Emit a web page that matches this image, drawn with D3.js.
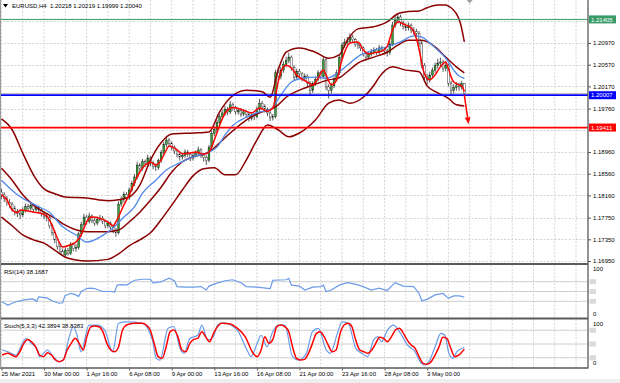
<!DOCTYPE html>
<html><head><meta charset="utf-8">
<script src="https://cdn.jsdelivr.net/npm/d3@7"></script>
<style>body{margin:0;background:#fff}svg{display:block}text{font-family:"Liberation Sans",Arial,sans-serif}</style>
</head><body><svg id="c" width="620" height="383"></svg>
<script>
// ---------- data ----------
const opens=[1.1822,1.1817,1.1810,1.1803,1.1800,1.1792,1.1786,1.1783,1.1780,1.1788,
1.1795,1.1792,1.1798,1.1790,1.1794,1.1789,1.1782,1.1778,1.1775,1.1760,
1.1748,1.1734,1.1722,1.1712,1.1706,1.1715,1.1709,1.1725,1.1718,1.1720,
1.1745,1.1762,1.1776,1.1768,1.1778,1.1770,1.1765,1.1772,1.1774,1.1768,
1.1760,1.1765,1.1758,1.1752,1.1747,1.1800,1.1808,1.1818,1.1812,1.1826,
1.1838,1.1850,1.1872,1.1866,1.1878,1.1875,1.1885,1.1876,1.1870,1.1867,
1.1880,1.1895,1.1910,1.1918,1.1912,1.1905,1.1898,1.1892,1.1887,1.1890,
1.1896,1.1892,1.1885,1.1890,1.1894,1.1900,1.1890,1.1886,1.1881,1.1905,
1.1930,1.1937,1.1950,1.1961,1.1968,1.1975,1.1970,1.1983,1.1978,1.1970,
1.1973,1.1966,1.1970,1.1965,1.1958,1.1964,1.1961,1.1975,1.1986,1.1980,
1.1975,1.1968,1.1960,1.1961,1.2042,1.2035,1.2047,1.2058,1.2065,1.2071,
1.2052,1.2034,1.2045,1.2040,1.2032,1.2036,1.2023,1.2010,1.2022,1.2030,
1.2042,1.2035,1.2066,1.2016,1.2010,1.2018,1.2030,1.2042,1.2070,1.2093,
1.2098,1.2100,1.2108,1.2103,1.2095,1.2092,1.2088,1.2078,1.2071,1.2076,
1.2080,1.2084,1.2080,1.2088,1.2085,1.2082,1.2079,1.2095,1.2130,1.2139,
1.2145,1.2134,1.2128,1.2125,1.2130,1.2121,1.2118,1.2115,1.2097,1.2056,
1.2034,1.2029,1.2038,1.2047,1.2055,1.2060,1.2062,1.2050,1.2056,1.2023,
1.2010,1.2015,1.2018,1.2016,1.20218];
const highs=[1.1828,1.1822,1.1815,1.1809,1.1804,1.1797,1.1791,1.1788,1.1794,1.1801,
1.1800,1.1804,1.1802,1.1799,1.1797,1.1792,1.1786,1.1784,1.1779,1.1764,
1.1752,1.1738,1.1727,1.1718,1.1720,1.1719,1.1730,1.1729,1.1726,1.1749,
1.1767,1.1782,1.1780,1.1784,1.1781,1.1774,1.1777,1.1780,1.1778,1.1771,
1.1769,1.1768,1.1762,1.1756,1.1805,1.1814,1.1823,1.1822,1.1830,1.1843,
1.1855,1.1878,1.1876,1.1883,1.1882,1.1891,1.1888,1.1880,1.1875,1.1884,
1.1900,1.1915,1.1926,1.1922,1.1915,1.1908,1.1902,1.1896,1.1895,1.1901,
1.1900,1.1895,1.1894,1.1899,1.1906,1.1903,1.1894,1.1890,1.1909,1.1935,
1.1943,1.1955,1.1966,1.1974,1.1981,1.1979,1.1990,1.1987,1.1981,1.1978,
1.1977,1.1975,1.1973,1.1968,1.1969,1.1967,1.1980,1.1994,1.1990,1.1984,
1.1978,1.1971,1.1966,1.2048,1.2052,1.2053,1.2063,1.2072,1.2079,1.2074,
1.2056,1.2050,1.2049,1.2043,1.2041,1.2039,1.2027,1.2026,1.2035,1.2047,
1.2046,1.2072,1.2070,1.2021,1.2024,1.2035,1.2048,1.2075,1.2098,1.2105,
1.2108,1.2115,1.2112,1.2106,1.2099,1.2096,1.2091,1.2082,1.2081,1.2086,
1.2089,1.2088,1.2093,1.2092,1.2089,1.2086,1.2100,1.2136,1.2147,1.2150,
1.2149,1.2138,1.2133,1.2135,1.2133,1.2126,1.2123,1.2119,1.2101,1.2060,
1.2040,1.2044,1.2052,1.2061,1.2068,1.2070,1.2066,1.2062,1.2059,1.2027,
1.2021,1.2025,1.2024,1.2027,1.20219];
const lows=[1.1810,1.1804,1.1797,1.1793,1.1786,1.1779,1.1776,1.1772,1.1776,1.1784,
1.1787,1.1788,1.1785,1.1786,1.1783,1.1777,1.1772,1.1768,1.1755,1.1742,
1.1728,1.1716,1.1707,1.1704,1.1703,1.1705,1.1706,1.1713,1.1712,1.1716,
1.1740,1.1757,1.1762,1.1764,1.1765,1.1760,1.1761,1.1768,1.1763,1.1755,
1.1756,1.1753,1.1746,1.1740,1.1744,1.1795,1.1803,1.1806,1.1808,1.1822,
1.1833,1.1846,1.1860,1.1862,1.1868,1.1871,1.1870,1.1864,1.1861,1.1863,
1.1876,1.1891,1.1905,1.1906,1.1899,1.1892,1.1886,1.1880,1.1882,1.1885,
1.1887,1.1879,1.1880,1.1886,1.1890,1.1885,1.1878,1.1872,1.1877,1.1901,
1.1925,1.1932,1.1946,1.1956,1.1963,1.1964,1.1966,1.1972,1.1965,1.1965,
1.1961,1.1962,1.1959,1.1952,1.1954,1.1955,1.1958,1.1971,1.1975,1.1969,
1.1962,1.1953,1.1954,1.1958,1.2028,1.2030,1.2042,1.2053,1.2060,1.2046,
1.2028,1.2030,1.2034,1.2026,1.2027,1.2017,1.2000,1.2005,1.2018,1.2026,
1.2030,1.2031,1.2010,1.1995,1.2004,1.2014,1.2026,1.2038,1.2066,1.2088,
1.2093,1.2096,1.2098,1.2090,1.2086,1.2082,1.2072,1.2065,1.2067,1.2072,
1.2076,1.2075,1.2076,1.2080,1.2077,1.2072,1.2075,1.2091,1.2125,1.2133,
1.2128,1.2122,1.2119,1.2120,1.2115,1.2112,1.2108,1.2090,1.2050,1.2025,
1.2020,1.2024,1.2033,1.2042,1.2050,1.2054,1.2044,1.2045,1.2017,1.2000,
1.2004,1.2009,1.2009,1.2011,1.19999];
const closes=[1.1817,1.1810,1.1803,1.1800,1.1792,1.1786,1.1783,1.1780,1.1788,1.1795,
1.1792,1.1798,1.1790,1.1794,1.1789,1.1782,1.1778,1.1775,1.1760,1.1748,
1.1734,1.1722,1.1712,1.1706,1.1715,1.1709,1.1725,1.1718,1.1720,1.1745,
1.1762,1.1776,1.1768,1.1778,1.1770,1.1765,1.1772,1.1774,1.1768,1.1760,
1.1765,1.1758,1.1752,1.1747,1.1800,1.1808,1.1818,1.1812,1.1826,1.1838,
1.1850,1.1872,1.1866,1.1878,1.1875,1.1885,1.1876,1.1870,1.1867,1.1880,
1.1895,1.1910,1.1918,1.1912,1.1905,1.1898,1.1892,1.1887,1.1890,1.1896,
1.1892,1.1885,1.1890,1.1894,1.1900,1.1890,1.1886,1.1881,1.1905,1.1930,
1.1937,1.1950,1.1961,1.1968,1.1975,1.1970,1.1983,1.1978,1.1970,1.1973,
1.1966,1.1970,1.1965,1.1958,1.1964,1.1961,1.1975,1.1986,1.1980,1.1975,
1.1968,1.1960,1.1961,1.2042,1.2035,1.2047,1.2058,1.2065,1.2071,1.2052,
1.2034,1.2045,1.2040,1.2032,1.2036,1.2023,1.2010,1.2022,1.2030,1.2042,
1.2035,1.2066,1.2016,1.2010,1.2018,1.2030,1.2042,1.2070,1.2093,1.2098,
1.2100,1.2108,1.2103,1.2095,1.2092,1.2088,1.2078,1.2071,1.2076,1.2080,
1.2084,1.2080,1.2088,1.2085,1.2082,1.2079,1.2095,1.2130,1.2139,1.2145,
1.2134,1.2128,1.2125,1.2130,1.2121,1.2118,1.2115,1.2097,1.2056,1.2034,
1.2029,1.2038,1.2047,1.2055,1.2060,1.2062,1.2050,1.2056,1.2023,1.2010,
1.2015,1.2018,1.2016,1.2022,1.20040];

// Bollinger bands, bar index + price
const upperIdx=[0,4,8,12,16,20,24,32,40,44,48,52,56,60,64,72,78,82,86,92,98,101,104,107,112,118,123,127,130,134,140,145,149,153,157,160,164,167,169,171,172.5,174];
const upperVal=[1.1957,1.1937,1.1894,1.1854,1.1828,1.1819,1.1813,1.1811,1.1806,1.1808,1.1813,1.1835,1.1881,1.1913,1.1929,1.1931,1.1933,1.1970,1.1996,1.2010,1.2007,1.1997,1.2047,1.2080,1.2088,1.2080,1.2069,1.2075,1.2102,1.2123,1.2127,1.2136,1.2151,1.2155,1.2156,1.2162,1.2167,1.2167,1.2162,1.2151,1.2134,1.2099];
const midIdx=[0,4,8,12,16,20,24,32,40,44,48,52,56,60,64,68,72,78,82,86,92,98,101,104,107,112,118,123,127,130,134,140,145,149,153,158,163,167,171,174];
const midVal=[1.1866,1.1844,1.1817,1.1798,1.1785,1.1774,1.1761,1.1749,1.1749,1.1752,1.1767,1.1785,1.1807,1.1831,1.1859,1.1878,1.1887,1.1896,1.1913,1.1931,1.1955,1.1970,1.1974,1.1983,1.1997,1.2010,1.2021,1.2029,1.2033,1.2044,1.2060,1.2071,1.2080,1.2093,1.2102,1.2102,1.2090,1.2071,1.2053,1.2042];
const lowerIdx=[0,4,8,12,16,20,24,28,32,40,44,48,52,56,60,64,68,72,76,80,84,88,92,96,100,104,108,112,118,123,127,131,136,140,142,147,152,157,160,164,168,171,174];
const lowerVal=[1.1776,1.1760,1.1743,1.1734,1.1728,1.1715,1.1702,1.1697,1.1695,1.1698,1.1708,1.1723,1.1734,1.1747,1.1771,1.1798,1.1826,1.1852,1.1865,1.1867,1.1854,1.1854,1.1881,1.1918,1.1946,1.1937,1.1924,1.1931,1.1955,1.1986,1.1992,1.1986,1.1997,1.2019,1.2034,1.2053,1.2047,1.2044,1.2018,1.2005,1.1995,1.1983,1.1981];
// slow MA (blue)
const blueIdx=[0,6,14,18,23,28,32,37,41,46,50,53,58,62,67,72,77,81,84,87,92,97,101,105,109,113,118,122,126,130,135,140,145,150,155,158,161,164,167,170,172,174];
const blueVal=[1.1844,1.1817,1.1795,1.1785,1.1758,1.1743,1.1730,1.1739,1.1752,1.1776,1.1795,1.1820,1.1844,1.1863,1.1876,1.1887,1.1894,1.1905,1.1927,1.1945,1.1960,1.1970,1.1974,1.2001,1.2025,1.2032,1.2034,1.2032,1.2040,1.2056,1.2075,1.2084,1.2090,1.2099,1.2110,1.2108,1.2097,1.2084,1.2069,1.2047,1.2036,1.2032];
// fast MA (red)
const redIdx=[0,2,4,6,7,10,12,14,17,19,21,23,26,28,30,32,34,37,40,42,43,46,48,50,52,54,56,58,60,62,63,66,68,71,73,76,78,80,82,84,87,91,94,97,100,102,104,105,107,109,111,115,117,119,121,122,124,126,128,131,134,136,138,141,143,145,147,149,151,154,155,156,157,158,159,161,163,165,167,168,169,170,172,173,174];
const redVal=[1.1817,1.1808,1.1789,1.1784,1.1789,1.1787,1.1785,1.1784,1.1778,1.1761,1.1737,1.1721,1.1725,1.1730,1.1743,1.1767,1.1776,1.1774,1.1767,1.1760,1.1767,1.1798,1.1817,1.1840,1.1859,1.1872,1.1877,1.1872,1.1881,1.1900,1.1907,1.1900,1.1893,1.1894,1.1896,1.1892,1.1896,1.1918,1.1945,1.1967,1.1978,1.1973,1.1968,1.1977,1.1971,1.1977,1.2025,1.2043,1.2056,1.2051,1.2038,1.2025,1.2020,1.2032,1.2047,1.2038,1.2020,1.2029,1.2066,1.2097,1.2099,1.2084,1.2077,1.2080,1.2082,1.2091,1.2121,1.2136,1.2132,1.2125,1.2117,1.2105,1.2085,1.2060,1.2040,1.2029,1.2038,1.2053,1.2062,1.2050,1.2035,1.2025,1.2020,1.2018,1.2007];

// RSI(14)
const rsiIdx=[0,1.5,2.4,4,5.5,7,8.5,10,11.5,12.5,13.2,14,17,19,20.5,21.6,23,23.8,25,26,27.5,29,30,32,33.5,35,37,38,41,42.5,43.5,45,47,48.5,50,53,56,57,60,63,65,66,69,72,75,77,78,81,84,87,90,92,96,101,102,107,108,109,112,114,117,120,121,122,124,127,130,133,136,139,142,145,147,148,151,155,157,158,160,163,166,168,170,172,173,174];
const rsiVal=[29,25,22,26,29,31,33,34,35,33,30,39,37,31,28,26,27,41,44,46,44,40,50,56,57,56,52,50,50,49,63,64,63,68,73,75,75,67,70,77,72,60,59,59,60,53,61,67,72,74,68,60,59,56,73,74,77,63,61,53,59,60,63,50,53,63,68,65,60,53,57,52,63,68,61,60,46,31,34,43,46,36,41,41,40,38.17];
// Stochastic(5,3,3)
const kIdx=[0.2,2.4,5.4,7.6,9.1,11.3,13.6,14.3,17.3,19.5,21.7,23.2,25.5,27,28.4,29.9,32.9,35.9,38.8,41.8,44,47,53,56.7,58.2,59.6,62.6,64.8,67.1,68.6,70.8,73.8,75.3,77.5,79.7,81.2,83.4,88.6,92.3,93.8,96.1,97.6,99.8,102,104.2,106.5,109.4,111.7,114.6,116.9,119.1,122.1,123.6,126.5,128,130.3,133.2,135.5,137.7,139.9,141.4,142.9,145.1,147.4,149.6,152.6,155.5,157.8,159.2,160.7,163,165.2,166.7,168.2,169.7,171.1,174];
const kVal=[37,33,26,48,62,51,37,22,37,22,11.6,15,66,88,69,33,91,91,80,33,95,98,95,59,18.8,15,84,88,40.6,29.7,62,69,91,59,66,91,96,80,37,22.5,51,69,44,77,91,91,22.5,15,29.7,77,84,37,29.7,77,98,95,40.6,29.7,22.5,59,66,55,80,91,77,48,33,8,4.3,11.6,44,73,69,29.7,18.8,33,42.39];
const dIdx=[0.2,2.4,5.4,6.9,8.4,9.8,11.3,12.8,14.3,15.8,17.3,18.8,20.3,21.7,23.2,24.7,26.2,27.7,29.2,30.7,32.1,33.6,35.1,36.6,38.1,39.6,41.1,42.5,44,45.5,47,50,53,54.4,55.9,57.4,58.9,60.4,61.9,63.4,64.8,66.3,67.8,69.3,70.8,72.3,73.8,75.3,76.7,78.2,79.7,81.2,82.7,85.7,88.6,91.6,94.6,96.1,97.6,99,100.5,102,103.5,105,106.5,108,109.4,110.9,112.4,113.9,115.4,116.9,118.4,119.8,121.3,122.8,124.3,125.8,127.3,128.8,130.3,131.7,133.2,134.7,136.2,137.7,139.2,140.7,142.1,143.6,145.1,146.6,148.1,149.6,151.1,152.6,154,155.5,157,158.5,160,161.5,163,164.5,165.9,167.4,168.9,170.4,171.9,174];
const dVal=[26,29.7,22.5,33.3,51.4,60,55,44.2,26,22.5,31.2,26,15.2,11.6,15.2,37,51.4,62.3,51.4,37,66,87.7,89,87.7,76.8,51.4,37,33.3,44.2,80.4,91.3,95,95,91.3,80.4,51.4,22.5,18.8,44.2,76.8,80.4,66,37,33.3,51.4,60,62.3,76.8,66,55,73,87.7,95,94,84.5,66,29.7,22.5,37,66,51.4,60,87.7,91.3,87.7,76.8,44.2,18.8,15.2,16.6,29.7,51.4,73,76.8,66,48,33.3,37,73,91.3,95,87.7,58,37,33.3,29.7,37,51.4,64.5,62.3,55,66,80.4,84,73,58,48,40.6,22.5,8,5.8,11.6,26,44.2,64.5,62.3,40.6,22.5,26,38.84];

const gridPrices=[1.21370,1.20970,1.20570,1.20170,1.19760,1.19360,1.18960,1.18560,1.18160,1.17750,1.17350,1.16950];
const labelPrices=[1.20970,1.20570,1.20170,1.19760,1.18960,1.18560,1.18160,1.17750,1.17350,1.16950];
const dateTickBars=[0,16,32,48,64,80,96,112,128,144,160];
const dateLabels=["25 Mar 2021","30 Mar 00:00","1 Apr 16:00","6 Apr 08:00","9 Apr 00:00","13 Apr 16:00","16 Apr 08:00","21 Apr 00:00","23 Apr 16:00","28 Apr 08:00","3 May 00:00"];
const levelPrices=[1.21405,1.20007,1.19411];
const levelNames=["1.21405","1.20007","1.19411"];
const bidPrice=1.20040;
const rsiLevels=[70,50,30];
const stochLevels=[80,50,20];
const arrowIdx=[174,175.6];
const arrowPrice=[1.2001,1.1947];
const headerText="EURUSD,H4  1.20218 1.20219 1.19999 1.20040";
const rsiText="RSI(14) 38.1687";
const stochText="Stoch(5,3,3) 42.3894 38.8383";

// ---------- drawing ----------
const R=588, MAINB=263;
const svg=d3.select('#c');
svg.append('rect').attr('width',620).attr('height',383).attr('fill','#fff');
svg.append('rect').attr('x',0).attr('y',379).attr('width',620).attr('height',4).attr('fill','#eeeeee');

const x=d3.scaleLinear().domain([0,160]).range([1.5,427.1]);
const y=d3.scaleLinear().domain([1.16950,1.20970]).range([261,43]);
const yR=d3.scaleLinear().domain([0,100]).range([316,267]);
const yS=d3.scaleLinear().domain([0,100]).range([367,321]);

svg.append('defs').append('clipPath').attr('id','cm').append('rect').attr('x',0).attr('y',0).attr('width',R).attr('height',MAINB);

// vertical grid
const gridBars=d3.range(0,28).map(k=>k*8);
const panels=[[0,MAINB],[265,317.5],[319.5,367.5]];
panels.forEach(([a,b])=>{
  svg.append('g').selectAll('line').data(gridBars).join('line')
   .attr('x1',d=>x(d)).attr('x2',d=>x(d)).attr('y1',a).attr('y2',b)
   .attr('stroke','#c9c9c9').attr('stroke-width',0.8).attr('stroke-dasharray','2,1.6');
});
// horizontal grid main
svg.append('g').selectAll('line').data(gridPrices).join('line')
 .attr('x1',0).attr('x2',R).attr('y1',d=>Math.round(y(d))+0.5).attr('y2',d=>Math.round(y(d))+0.5)
 .attr('stroke','#c9c9c9').attr('stroke-width',0.8).attr('stroke-dasharray','2,1.6');
// RSI / Stoch levels
svg.append('g').selectAll('line').data(rsiLevels).join('line')
 .attr('x1',0).attr('x2',R).attr('y1',d=>yR(d)).attr('y2',d=>yR(d)).attr('stroke','#c8c8c8').attr('stroke-width',0.9);
svg.append('g').selectAll('line').data(stochLevels).join('line')
 .attr('x1',0).attr('x2',R).attr('y1',d=>yS(d)).attr('y2',d=>yS(d)).attr('stroke','#c8c8c8').attr('stroke-width',0.9);

const main=svg.append('g').attr('clip-path','url(#cm)');
// bid line
main.append('line').attr('x1',0).attr('x2',R).attr('y1',y(bidPrice)).attr('y2',y(bidPrice)).attr('stroke','#bdbdbd').attr('stroke-width',1);

// candles
const bars=d3.range(closes.length);
const cg=main.append('g');
cg.selectAll('line').data(bars).join('line')
 .attr('x1',i=>x(i)).attr('x2',i=>x(i)).attr('y1',i=>y(highs[i])).attr('y2',i=>y(lows[i]))
 .attr('stroke','#111').attr('stroke-width',0.7);
cg.selectAll('rect').data(bars).join('rect')
 .attr('x',i=>x(i)-0.9).attr('width',1.8)
 .attr('y',i=>y(Math.max(opens[i],closes[i])))
 .attr('height',i=>Math.max(0.7,Math.abs(y(opens[i])-y(closes[i]))))
 .attr('fill',i=>closes[i]>=opens[i]?'#35a035':'#ffffff')
 .attr('stroke','#111').attr('stroke-width',0.4);

const lineP=d3.line().x(d=>x(d[0])).y(d=>y(d[1])).curve(d3.curveMonotoneX);
[[upperIdx,upperVal],[midIdx,midVal],[lowerIdx,lowerVal]].forEach(([a,b])=>{
  main.append('path').attr('d',lineP(d3.zip(a,b))).attr('fill','none').attr('stroke','#8b0000').attr('stroke-width',1.5);
});
main.append('path').attr('d',lineP(d3.zip(blueIdx,blueVal))).attr('fill','none').attr('stroke','#4f88ea').attr('stroke-width',1.3);
main.append('path').attr('d',lineP(d3.zip(redIdx,redVal))).attr('fill','none').attr('stroke','#ff0000').attr('stroke-width',1.5);

// horizontal level lines
const lvlColors=['#3a9a68','#0000ff','#ff0000'];
const lvlW=[1,1.8,1.8];
levelPrices.forEach((p,i)=>{
  main.append('line').attr('x1',0).attr('x2',R).attr('y1',y(p)).attr('y2',y(p)).attr('stroke',lvlColors[i]).attr('stroke-width',lvlW[i]);
});

// arrow
const ax0=x(arrowIdx[0]),ay0=y(arrowPrice[0]),ax1=x(arrowIdx[1]),ay1=y(arrowPrice[1]);
const ang=Math.atan2(ay1-ay0,ax1-ax0);
const hl=7,hw=2.8;
const bx=ax1-hl*Math.cos(ang),by=ay1-hl*Math.sin(ang);
main.append('line').attr('x1',ax0).attr('y1',ay0).attr('x2',bx).attr('y2',by).attr('stroke','#ff0000').attr('stroke-width',1.5);
main.append('path').attr('d',`M${ax1},${ay1}L${bx+hw*Math.sin(ang)},${by-hw*Math.cos(ang)}L${bx-hw*Math.sin(ang)},${by+hw*Math.cos(ang)}Z`).attr('fill','#ff0000');

// RSI line
svg.append('path').attr('d',d3.line().x(d=>x(d[0])).y(d=>yR(d[1]))(d3.zip(rsiIdx,rsiVal)))
 .attr('fill','none').attr('stroke','#6a9be8').attr('stroke-width',1.2);
// Stoch lines
const lineS=d3.line().x(d=>x(d[0])).y(d=>yS(d[1])).curve(d3.curveMonotoneX);
svg.append('path').attr('d',lineS(d3.zip(kIdx,kVal))).attr('fill','none').attr('stroke','#6a9be8').attr('stroke-width',1.2);
svg.append('path').attr('d',lineS(d3.zip(dIdx,dVal))).attr('fill','none').attr('stroke','#ff0000').attr('stroke-width',1.5);

// borders
svg.append('line').attr('x1',0).attr('x2',R).attr('y1',264).attr('y2',264).attr('stroke','#5a5a5a').attr('stroke-width',2);
svg.append('line').attr('x1',0).attr('x2',R).attr('y1',318.5).attr('y2',318.5).attr('stroke','#5a5a5a').attr('stroke-width',2);
svg.append('line').attr('x1',0).attr('x2',R).attr('y1',368).attr('y2',368).attr('stroke','#5a5a5a').attr('stroke-width',1.5);
svg.append('line').attr('x1',R).attr('x2',R).attr('y1',0).attr('y2',368.5).attr('stroke','#5a5a5a').attr('stroke-width',1.3);
svg.append('line').attr('x1',0.5).attr('x2',0.5).attr('y1',0).attr('y2',368).attr('stroke','#9a9a9a').attr('stroke-width',1);

// price axis
const pa=svg.append('g').attr('transform',`translate(${R},0)`)
 .call(d3.axisRight(y).tickValues(labelPrices).tickSize(3).tickPadding(2).tickFormat(d=>d.toFixed(5)));
pa.select('.domain').remove();
pa.selectAll('line').attr('stroke','#555');
pa.selectAll('text').attr('font-size','6px').attr('font-family','Liberation Sans, Arial, sans-serif').attr('fill','#000');

// level labels on axis
levelPrices.forEach((p,i)=>{
  const cy=y(p);
  svg.append('rect').attr('x',589).attr('y',cy-4).attr('width',27).attr('height',8).attr('fill',lvlColors[i]);
  svg.append('text').attr('x',591).attr('y',cy+2.1).attr('font-size','6px').attr('fill','#fff').text(levelNames[i]);
});

// date axis
const da=svg.append('g').attr('transform','translate(0,368.5)')
 .call(d3.axisBottom(x).tickValues(dateTickBars).tickSize(2).tickPadding(1).tickFormat((d,i)=>dateLabels[i]));
da.select('.domain').remove();
da.selectAll('line').attr('stroke','#555');
da.selectAll('text').attr('font-size','6px').attr('font-family','Liberation Sans, Arial, sans-serif').attr('fill','#000').attr('text-anchor','start').attr('dx','-0.5');

// sub-panel scale labels
function scaleLabel(t,yy){svg.append('text').attr('x',593).attr('y',yy).attr('font-size','6px').attr('fill','#000').text(t);}
scaleLabel('100',yR(100)+3.5); scaleLabel('0',yR(0)-0.2);
scaleLabel('100',yS(100)+4.5); scaleLabel('0',yS(0)-1.8);
rsiLevels.forEach(v=>{svg.append('rect').attr('x',589.5).attr('y',yR(v)-2.5).attr('width',6.5).attr('height',5).attr('fill','#dadada');});
stochLevels.forEach(v=>{svg.append('rect').attr('x',589.5).attr('y',yS(v)-2.5).attr('width',6.5).attr('height',5).attr('fill','#dadada');});

// header texts
svg.append('path').attr('d','M3,4L8,4L5.5,7.5Z').attr('fill','#000');
svg.append('text').attr('x',12).attr('y',8.2).attr('font-size','6px').attr('fill','#000').style('white-space','pre').text(headerText);
svg.append('text').attr('x',4).attr('y',274).attr('font-size','6px').attr('fill','#000').text(rsiText);
svg.append('text').attr('x',4).attr('y',327.5).attr('font-size','6px').attr('fill','#000').text(stochText);
// chart shift marker
svg.append('path').attr('d',`M${x(176)-3},0L${x(176)+3},0L${x(176)},3.5Z`).attr('fill','#a0a0a0');
</script></body></html>
